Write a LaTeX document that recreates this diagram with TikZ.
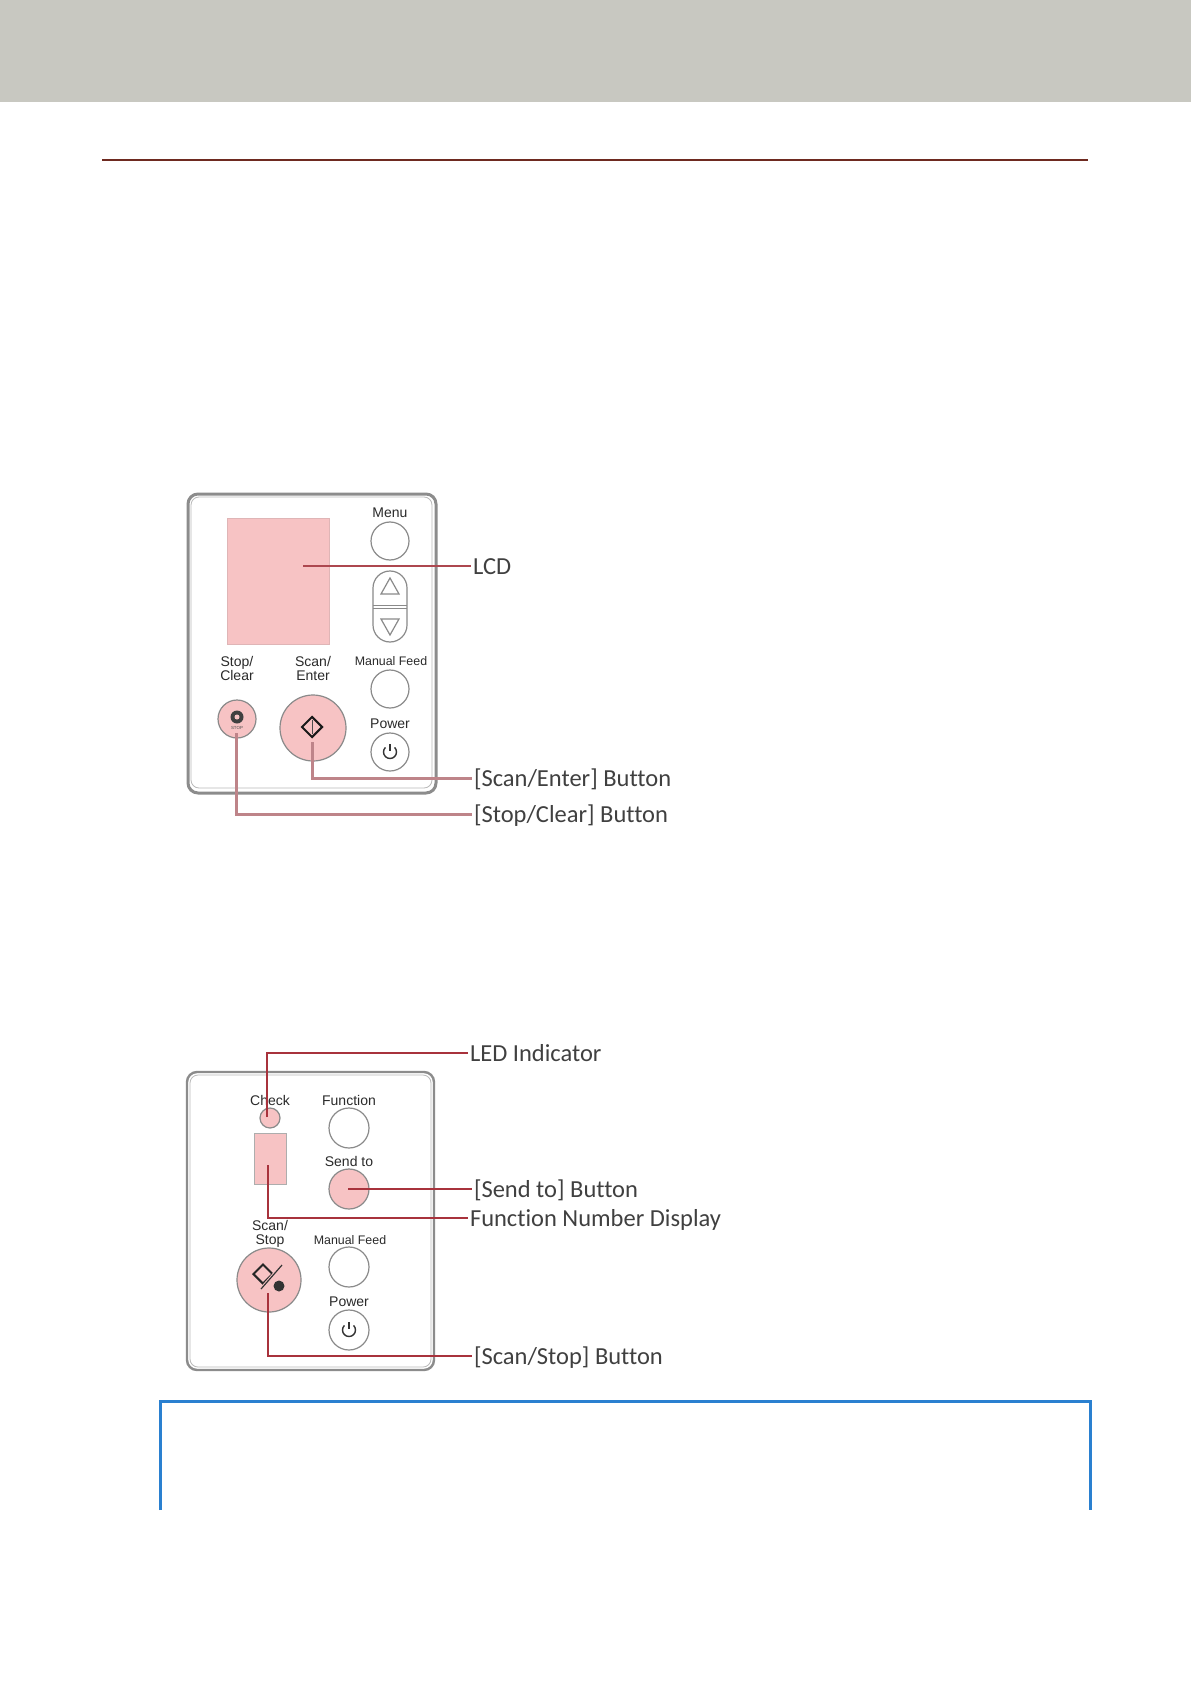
\documentclass[tikz,border=0pt]{standalone}
\usepackage{fontspec}
\usetikzlibrary{shapes.geometric}
\setmainfont[Ligatures=NoCommon]{Carlito}
\newfontfamily\panelfont{Liberation Sans}
\definecolor{bandgrey}{HTML}{C8C8C1}
\definecolor{rulered}{HTML}{6E2A20}
\definecolor{boxblue}{HTML}{2A80D0}
\definecolor{pinkfill}{HTML}{F7C3C4}
\definecolor{panelgrey}{HTML}{8C8C8C}
\definecolor{paleline}{HTML}{BE8489}
\definecolor{darkline}{HTML}{A8323C}
\definecolor{halo}{HTML}{E3B4B6}
\definecolor{labelgrey}{HTML}{404040}
\definecolor{smallgrey}{HTML}{2A2A2A}
\definecolor{btngrey}{HTML}{8A8A8A}
\tikzset{
 x=0.5pt,y=-0.5pt,
 outerpanel/.style={draw=panelgrey,line width=1.5pt,rounded corners=5pt,fill=white},
 innerpanel/.style={draw=panelgrey!60,line width=.4pt,rounded corners=4pt},
 btn/.style={circle,draw=btngrey,line width=.6pt,fill=white,minimum size=#1*1pt,inner sep=0pt},
 pinkbtn/.style={circle,draw=btngrey,line width=.6pt,fill=pinkfill,minimum size=#1*1pt,inner sep=0pt},
 pinkrect/.style={rectangle,draw=pinkfill!80!gray,line width=.4pt,fill=pinkfill,inner sep=0pt},
 small/.style={font=\panelfont\fontsize{7}{7}\selectfont,text=smallgrey,align=center,inner sep=0pt},
 callout/.style={anchor=west,font=\fontsize{12.25}{14}\selectfont,text=labelgrey,inner sep=0pt,outer sep=1pt,text height=9pt,text depth=1pt},
 thickcall/.style={draw=paleline,line width=1.5pt},
 thinpale/.style={draw=halo,line width=1.4pt},
 thincall/.style={draw=darkline,line width=.6pt},
 glyph/.style={draw=black!80,line width=.7pt},
}
\begin{document}
\begin{tikzpicture}
\useasboundingbox (0,0) rectangle (1191,1684);
\fill[white] (0,0) rectangle (1191,1684);
\fill[bandgrey] (0,0) rectangle (1191,102);
\draw[rulered,line width=1pt] (102,160) -- (1088,160);
\draw[boxblue,line width=1.5pt] (160.5,1510) -- (160.5,1401.5) -- (1090.5,1401.5) -- (1090.5,1510);

% ---------- first panel
\draw[outerpanel] (188,494) rectangle (436,793);
\draw[innerpanel] (191,497) rectangle (432,788);
\node[pinkrect,minimum width=51pt,minimum height=63pt] (lcd) at (278,581) {};
\node[small] (menutxt) at (390,513) {Menu};
\node[btn=19] (menu) at (390,541) {};
\draw[btngrey,line width=.6pt,fill=white,rounded corners=8.5pt] (373,571) rectangle (407,642);
\draw[btngrey,line width=.5pt] (373,605) -- (407,605) (373,608) -- (407,608);
\draw[btngrey,line width=.6pt] (390,578) -- (399,594) -- (381,594) -- cycle;
\draw[btngrey,line width=.6pt] (390,635) -- (399,619) -- (381,619) -- cycle;
\node[small] (stoptxt) at (237,668) {Stop/\\Clear};
\node[small] (scantxt) at (313,668) {Scan/\\Enter};
\node[small,font=\panelfont\fontsize{6.2}{7}\selectfont] (mftxt) at (391,661) {Manual Feed};
\node[btn=19] (mf) at (390,689) {};
\node[small] (powertxt) at (390,724) {Power};
\node[btn=19] (power) at (390,752) {};
\draw[glyph] (385.4,747.4) arc[start angle=225,end angle=-45,radius=6.5];
\draw[glyph] (390,744) -- (390,751);
\node[pinkbtn=19] (stopbtn) at (237,719) {};
\node[circle,fill=black!75,minimum size=6.5pt,inner sep=0pt] (stopicon) at (237,717) {};
\node[circle,fill=pinkfill,minimum size=2.5pt,inner sep=0pt] (stopicond) at (237,717) {};
\node[font=\panelfont\fontsize{2.2}{2.4}\selectfont,text=black!70,inner sep=0pt] (stopmini) at (237,728) {STOP};
\node[pinkbtn=33] (scanbtn) at (313,728) {};
\node[diamond,draw=black!90,line width=1pt,minimum size=10.5pt,inner sep=0pt] (scanicon) at (312,727) {};
\draw[black!70,line width=.5pt] (312,720) -- (312,734);
\coordinate (lcdend) at (303,566);
\coordinate (scanend) at (312,742);
\coordinate (stopend) at (236,733);
\node[callout] (lcdlbl) at (471,566) {LCD};
\node[callout] (scanlbl) at (472,778) {[Scan/Enter] Button};
\node[callout] (stoplbl) at (472,814) {[Stop/Clear] Button};
\draw[draw=darkline!75!paleline,line width=.8pt] (lcdend) -- (lcdlbl.west);
\draw[thickcall] (scanend) |- (scanlbl.west);
\draw[thickcall] (stopend) |- (stoplbl.west);

% ---------- second panel
\draw[outerpanel,line width=1.2pt] (187,1072) rectangle (434,1370);
\draw[innerpanel] (190,1075) rectangle (431,1367);
\node[small] (checktxt) at (270,1100) {Check};
\node[small] (functxt) at (349,1100) {Function};
\node[btn=20] (func) at (349,1128) {};
\node[small] (sendtxt) at (349,1161) {Send to};
\node[pinkbtn=20] (send) at (349,1189) {};
\node[pinkbtn=10] (led) at (270,1118) {};
\node[pinkrect,minimum width=16pt,minimum height=25.5pt,draw=btngrey!70] (fnd) at (270,1158.5) {};
\node[small] (scan2txt) at (270,1234) {Scan/\\Stop};
\node[small,font=\panelfont\fontsize{6.2}{7}\selectfont] (mf2txt) at (350,1240) {Manual Feed};
\node[btn=20] (mf2) at (349,1267) {};
\node[small] (power2txt) at (349,1302) {Power};
\node[btn=20] (power2) at (349,1330) {};
\draw[glyph] (344.4,1325.4) arc[start angle=225,end angle=-45,radius=6.5];
\draw[glyph] (349,1322) -- (349,1329);
\node[pinkbtn=32] (scan2) at (269,1280) {};
\node[diamond,draw=black!85,line width=1pt,minimum size=10pt,inner sep=0pt] (scan2dia) at (263,1274) {};
\draw[pinkfill,line width=1.6pt] (261,1289) -- (282,1265);
\draw[black!80,line width=.6pt] (261,1289) -- (282,1265);
\node[circle,fill=black!80,minimum size=5.5pt,inner sep=0pt] (scan2icon) at (279,1286) {};
\coordinate (ledend) at (267,1117);
\coordinate (sendend) at (348,1189);
\coordinate (fndend) at (268,1165);
\coordinate (scan2end) at (268,1293);
\node[callout] (ledlbl) at (468,1053) {LED Indicator};
\node[callout] (sendlbl) at (472,1189) {[Send to] Button};
\node[callout] (fndlbl) at (468,1218) {Function Number Display};
\node[callout] (scan2lbl) at (472,1356) {[Scan/Stop] Button};
\foreach \a/\b in {ledend/ledlbl,fndend/fndlbl,scan2end/scan2lbl}{
  \draw[thinpale] (\a) |- (\b.west);
  \draw[thincall] (\a) |- (\b.west);
}
\draw[thinpale] (sendend) -- (sendlbl.west);
\draw[thincall] (sendend) -- (sendlbl.west);
\end{tikzpicture}
\end{document}
